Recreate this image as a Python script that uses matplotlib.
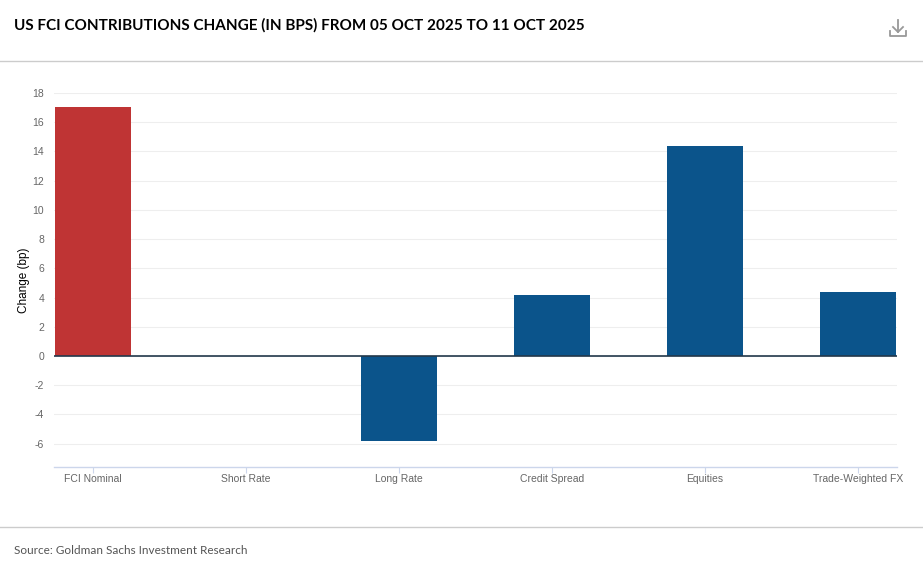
import matplotlib.pyplot as plt
import numpy as np
from matplotlib.lines import Line2D

categorias = ["FCI Nominal", "Short Rate", "Long Rate", "Credit Spread", "Equities", "Trade-Weighted FX"]
variacao = [17.05, 0.0, -5.8, 4.18, 14.38, 4.38]
cores = ["#BF3434", "#0B548B", "#0B548B", "#0B548B", "#0B548B", "#0B548B"]
yticks = np.arange(-6, 19, 2)

titulo = "US FCI CONTRIBUTIONS CHANGE (IN BPS) FROM 05 OCT 2025 TO 11 OCT 2025"
fonte = "Source: Goldman Sachs Investment Research"

fig = plt.figure(figsize=(9.23, 5.71), dpi=100)
ax = fig.add_axes([54 / 923, 1 - 467 / 571, (897 - 54) / 923, (467 - 93) / 571])

x = np.arange(len(categorias))
ax.bar(x, variacao, width=0.5, color=cores, zorder=3)

ax.set_xlim(-0.255, len(categorias) - 1 + 0.255)
ax.set_ylim(-7.6, 18)
ax.set_yticks(yticks)
ax.set_yticklabels([str(v) for v in yticks], fontsize=7.5, color="#666666", family="Liberation Sans")
ax.set_xticks(x)
ax.set_xticklabels(categorias, fontsize=7.5, color="#666666", family="Liberation Sans")
ax.tick_params(axis="y", length=0, pad=7)
ax.tick_params(axis="x", length=4, color="#ccd6eb", pad=1)

ax.grid(axis="y", color="#eeeeee", linewidth=0.8, zorder=0)
ax.axhline(0, color="#23384b", linewidth=1.2, zorder=4)
for lado in ["top", "right", "left"]:
    ax.spines[lado].set_visible(False)
ax.spines["bottom"].set_color("#ccd6eb")
ax.spines["bottom"].set_linewidth(1)

ax.set_ylabel("Change (bp)", fontsize=8.5, family="Liberation Sans", color="#000000", labelpad=1.5)

fig.text(14 / 923, 1 - 25 / 571, titulo, fontsize=11, fontweight="bold",
         family=["Lato", "DejaVu Sans"], va="center", ha="left")
fig.text(14 / 923, 1 - 551 / 571, fonte, fontsize=8.5, color="#555555",
         family="Lato", va="center", ha="left")

# linhas de separacao
fig.add_artist(Line2D([0, 1], [1 - 61 / 571] * 2, color="#cccccc", linewidth=1))
fig.add_artist(Line2D([0, 1], [1 - 527 / 571] * 2, color="#cccccc", linewidth=1))

# icone de download
cinza = "#999999"
fig.add_artist(Line2D([898 / 923] * 2, [1 - 20 / 571, 1 - 32 / 571], color=cinza, linewidth=1.3))
fig.add_artist(Line2D([893 / 923, 898 / 923, 903 / 923], [1 - 27 / 571, 1 - 32 / 571, 1 - 27 / 571], color=cinza, linewidth=1.3))
fig.add_artist(Line2D([890 / 923, 890 / 923, 906 / 923, 906 / 923],
                      [1 - 31 / 571, 1 - 36 / 571, 1 - 36 / 571, 1 - 31 / 571], color=cinza, linewidth=1.3))

fig.savefig("out.png", dpi=100)
